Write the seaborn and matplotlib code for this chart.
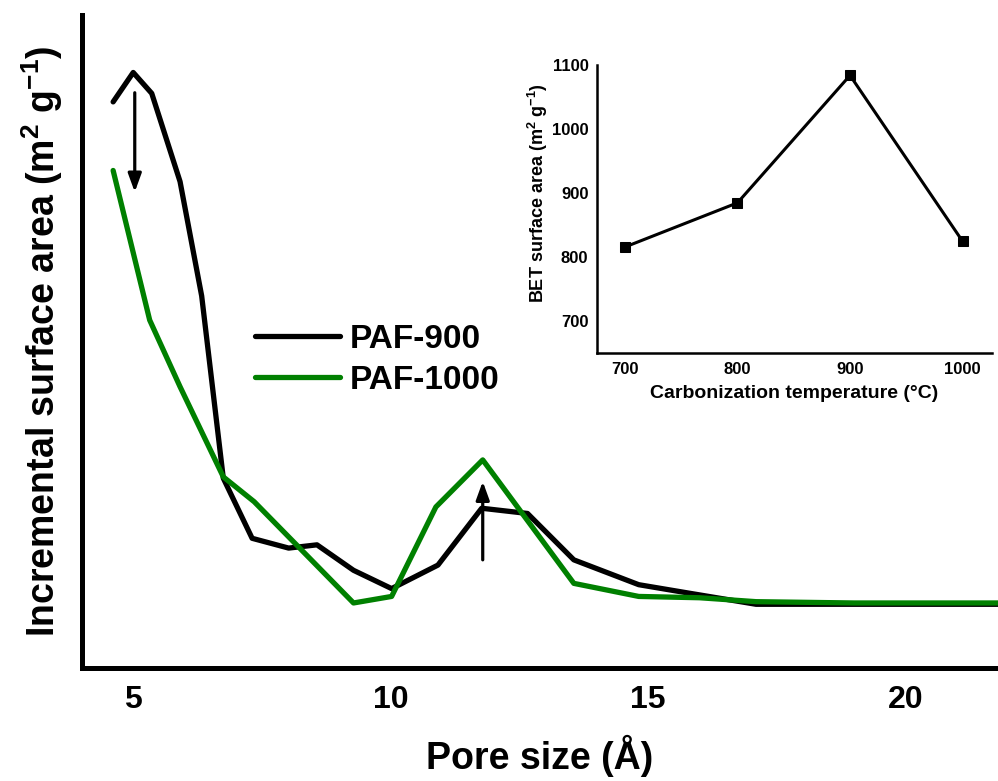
import matplotlib
matplotlib.use("Agg")
import matplotlib.pyplot as plt
import seaborn as sns
import pandas as pd

# ---- data ----
pore_900 = [4.61, 5.00, 5.36, 5.91, 6.33, 6.75, 7.31, 8.02, 8.57, 9.28, 10.02,
            10.92, 11.77, 12.66, 13.56, 14.82, 15.80, 17.10, 19.0, 21.8]
area_900 = [86.7, 91.2, 88.0, 74.5, 57.0, 29.1, 19.9, 18.4, 18.9, 15.0, 12.2,
            15.8, 24.5, 23.7, 16.6, 12.8, 11.5, 9.8, 9.8, 9.8]
pore_1000 = [4.61, 5.32, 5.91, 6.75, 7.35, 9.28, 10.02, 10.88, 11.79, 13.56,
             14.82, 16.0, 17.1, 19.0, 21.8]
area_1000 = [76.2, 53.3, 43.1, 29.3, 25.5, 10.0, 11.0, 24.7, 31.9, 13.0,
             11.0, 10.8, 10.2, 10.0, 10.0]
series_labels = ["PAF-900", "PAF-1000"]
series_colors = ["#000000", "#008000"]
xticks_main = [5, 10, 15, 20]

temps = [700, 800, 900, 1000]
bet_area = [816, 885, 1084, 825]
inset_yticks = [700, 800, 900, 1000, 1100]

# ---- style ----
sns.set_style("white")
plt.rcParams["font.family"] = ["Liberation Sans", "DejaVu Sans"]
plt.rcParams["font.weight"] = "bold"
plt.rcParams["mathtext.fontset"] = "custom"
plt.rcParams["mathtext.rm"] = "Liberation Sans:bold"
plt.rcParams["mathtext.it"] = "Liberation Sans:bold"
plt.rcParams["mathtext.bf"] = "Liberation Sans:bold"
plt.rcParams["axes.unicode_minus"] = True
for k in ["text.color", "axes.labelcolor", "xtick.color", "ytick.color",
          "axes.edgecolor"]:
    plt.rcParams[k] = "black"

fig = plt.figure(figsize=(9.98, 7.81), dpi=100)
ax = fig.add_axes([0.0819, 0.1443, 0.9181, 0.8365])

df900 = pd.DataFrame({"x": pore_900, "y": area_900})
df1000 = pd.DataFrame({"x": pore_1000, "y": area_1000})
sns.lineplot(data=df900, x="x", y="y", ax=ax, color=series_colors[0],
             lw=3.8, sort=False, estimator=None, label=series_labels[0])
sns.lineplot(data=df1000, x="x", y="y", ax=ax, color=series_colors[1],
             lw=3.8, sort=False, estimator=None, label=series_labels[1])

ax.set_xlim(4.0, 21.8)
ax.set_ylim(0, 100)
ax.set_xticks(xticks_main)
ax.set_yticks([])
for s in ["top", "right"]:
    ax.spines[s].set_visible(False)
for s in ["left", "bottom"]:
    ax.spines[s].set_linewidth(3.6)
    ax.spines[s].set_color("black")
ax.tick_params(axis="x", direction="in", length=11, width=3.6, pad=12,
               labelsize=23, colors="black")
for t in ax.get_xticklabels():
    t.set_fontweight("bold")
ax.set_xlabel("Pore size (Å)", fontsize=27, fontweight="bold", labelpad=14)
ax.set_ylabel("Incremental surface area (m$^{2}$ g$^{-1}$)", fontsize=27,
              fontweight="bold", labelpad=12)

# arrows
arrow_kw = dict(arrowstyle="-|>,head_length=0.55,head_width=0.2",
                lw=2.3, color="black", shrinkA=0, shrinkB=0,
                mutation_scale=20)
ax.annotate("", xy=(5.03, 72.9), xytext=(5.03, 88.1), arrowprops=arrow_kw)
ax.annotate("", xy=(11.79, 28.6), xytext=(11.79, 16.6), arrowprops=arrow_kw)

leg = ax.legend(loc="center left", bbox_to_anchor=(255 / 998, 1 - 360 / 781),
                bbox_transform=fig.transFigure, frameon=False, fontsize=24,
                handlelength=2.55, handletextpad=0.3, labelspacing=0.3,
                borderpad=0, borderaxespad=0)
for t in leg.get_texts():
    t.set_fontweight("bold")
for h in leg.get_lines():
    h.set_linewidth(3.8)
    h.set_solid_capstyle("round")

# ---- inset ----
axi = fig.add_axes([0.598, 0.5476, 0.3958, 0.369])
dfi = pd.DataFrame({"t": temps, "a": bet_area})
sns.lineplot(data=dfi, x="t", y="a", ax=axi, color="black", lw=2.2,
             marker="s", markersize=7, markeredgecolor="black",
             markerfacecolor="black", estimator=None, sort=False)
axi.set_xlim(675, 1026)
axi.set_ylim(650, 1100)
axi.set_xticks(temps)
axi.set_yticks(inset_yticks)
axi.set_xticks([750, 850, 950], minor=True)
axi.set_yticks([750, 850, 950, 1050], minor=True)
for s in ["top", "right"]:
    axi.spines[s].set_visible(False)
for s in ["left", "bottom"]:
    axi.spines[s].set_linewidth(1.8)
    axi.spines[s].set_color("black")
axi.tick_params(which="major", direction="in", length=5, width=1.8,
                labelsize=12, pad=6, colors="black")
axi.tick_params(which="minor", direction="in", length=3, width=1.5,
                colors="black")
for t in axi.get_xticklabels() + axi.get_yticklabels():
    t.set_fontweight("bold")
axi.set_xlabel("Carbonization temperature (°C)", fontsize=14,
               fontweight="bold", labelpad=6)
axi.set_ylabel("BET surface area (m$^{2}$ g$^{-1}$)", fontsize=13,
               fontweight="bold")
axi.yaxis.set_label_coords(-0.118, 0.556)
axi.patch.set_alpha(0)

fig.savefig("out.png", dpi=100)
